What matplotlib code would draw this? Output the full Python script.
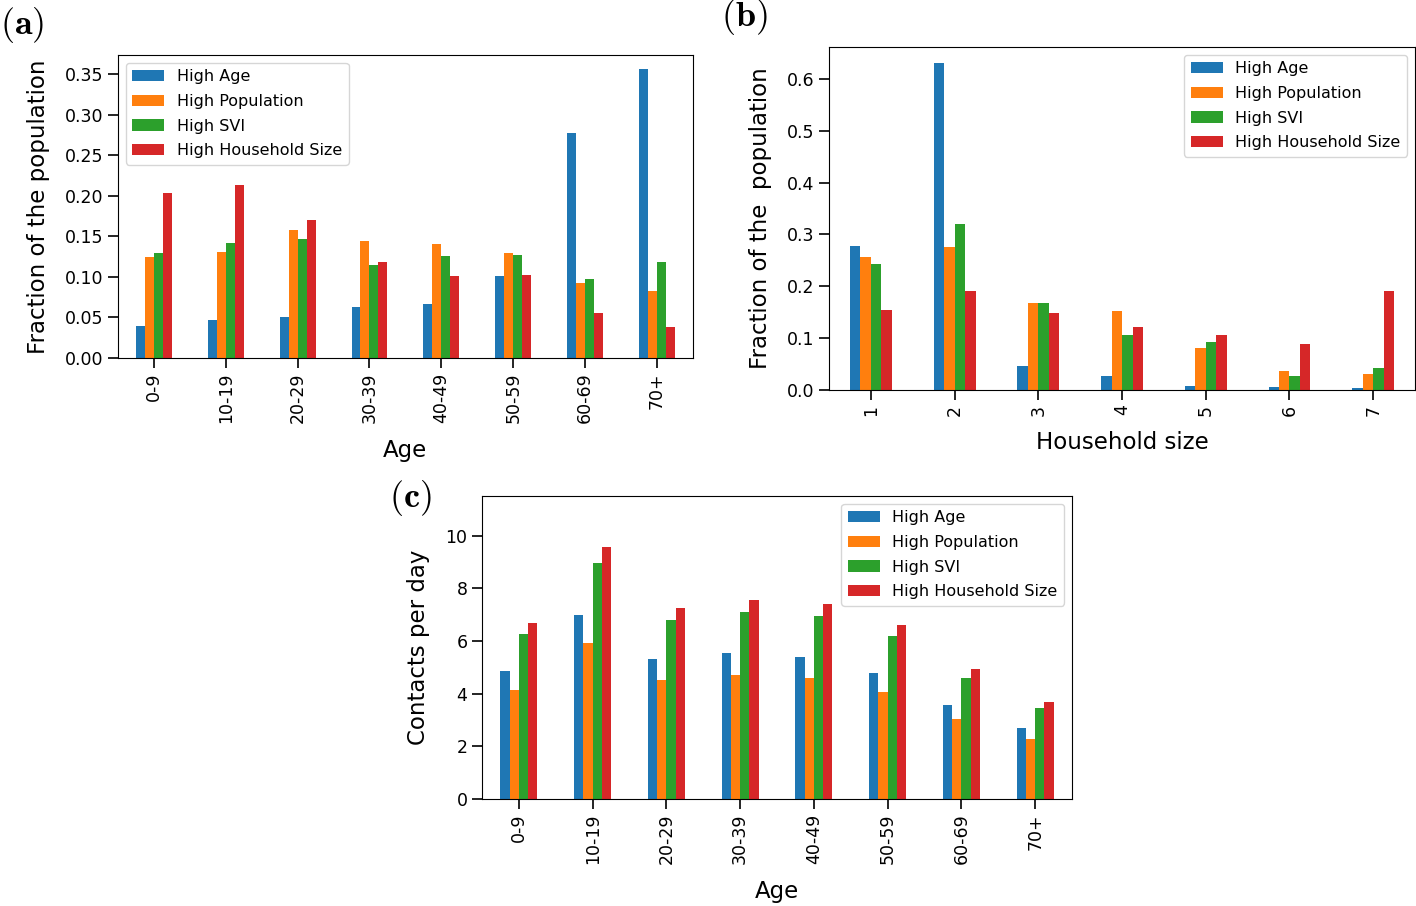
import matplotlib
matplotlib.use('Agg')
from matplotlib import pyplot as plt
import pandas as pd

plt.rcParams['mathtext.fontset'] = 'cm'

series = ['High Age', 'High Population', 'High SVI', 'High Household Size']

age_groups = ['0-9', '10-19', '20-29', '30-39', '40-49', '50-59', '60-69', '70+']
age_high_age = [0.039, 0.047, 0.051, 0.063, 0.067, 0.101, 0.277, 0.356]
age_high_pop = [0.125, 0.131, 0.158, 0.144, 0.140, 0.130, 0.092, 0.082]
age_high_svi = [0.130, 0.142, 0.147, 0.115, 0.126, 0.127, 0.098, 0.118]
age_high_hh = [0.204, 0.213, 0.170, 0.119, 0.101, 0.102, 0.055, 0.038]

hh_sizes = ['1', '2', '3', '4', '5', '6', '7']
hh_high_age = [0.277, 0.630, 0.047, 0.027, 0.007, 0.005, 0.003]
hh_high_pop = [0.256, 0.276, 0.168, 0.152, 0.082, 0.036, 0.030]
hh_high_svi = [0.243, 0.320, 0.167, 0.106, 0.093, 0.027, 0.043]
hh_high_hh = [0.155, 0.191, 0.148, 0.121, 0.107, 0.089, 0.191]

ct_high_age = [4.87, 6.98, 5.30, 5.54, 5.40, 4.79, 3.58, 2.68]
ct_high_pop = [4.13, 5.93, 4.51, 4.69, 4.58, 4.08, 3.04, 2.29]
ct_high_svi = [6.27, 8.95, 6.80, 7.08, 6.93, 6.17, 4.61, 3.44]
ct_high_hh = [6.69, 9.56, 7.25, 7.56, 7.40, 6.59, 4.93, 3.68]

df_a = pd.DataFrame(dict(zip(series, [age_high_age, age_high_pop, age_high_svi, age_high_hh])), index=age_groups)
df_b = pd.DataFrame(dict(zip(series, [hh_high_age, hh_high_pop, hh_high_svi, hh_high_hh])), index=hh_sizes)
df_c = pd.DataFrame(dict(zip(series, [ct_high_age, ct_high_pop, ct_high_svi, ct_high_hh])), index=age_groups)

fig = plt.figure(figsize=(14.16, 9.06), dpi=100)
ax_a = fig.add_axes([0.0833, 0.6049, 0.406, 0.3344])
ax_b = fig.add_axes([0.5855, 0.5695, 0.4138, 0.3786])
ax_c = fig.add_axes([0.3404, 0.1181, 0.4167, 0.3344])

tick_fs = 12.5
label_fs = 16.5
legend_fs = 11.5

def draw(ax, df, xlabel, ylabel, loc):
    df.plot.bar(ax=ax)
    ax.set_xlabel(xlabel, fontsize=label_fs, labelpad=11)
    ax.set_ylabel(ylabel, fontsize=label_fs, labelpad=11)
    ax.tick_params(axis='both', labelsize=tick_fs, length=7, width=1.2)
    ax.legend(loc=loc, fontsize=legend_fs, labelspacing=0.6)

draw(ax_a, df_a, 'Age', 'Fraction of the population', 'upper left')
draw(ax_b, df_b, 'Household size', 'Fraction of the  population', 'upper right')
draw(ax_c, df_c, 'Age', 'Contacts per day', 'upper right')
ax_c.set_ylim(0, 11.5)

fig.text(0.0, 0.972, r'$\mathbf{(a)}$', fontsize=26, va='center', ha='left')
fig.text(0.509, 0.981, r'$\mathbf{(b)}$', fontsize=26, va='center', ha='left')
fig.text(0.275, 0.450, r'$\mathbf{(c)}$', fontsize=26, va='center', ha='left')

fig.savefig('out.png', dpi=100)
